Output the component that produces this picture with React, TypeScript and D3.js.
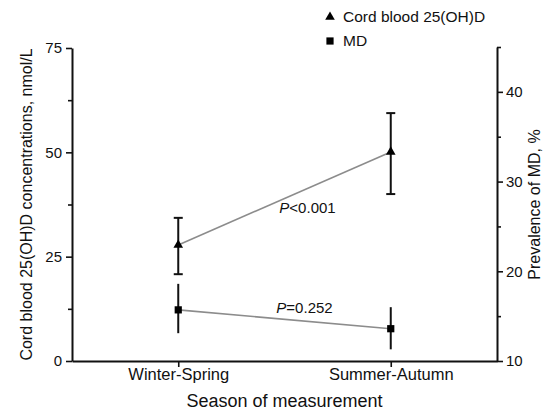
import React, { useEffect, useRef } from "react";
import * as d3 from "d3";

// categories on the x axis
const seasons = ["Winter-Spring", "Summer-Autumn"];

// cord blood 25(OH)D, nmol/L (left axis)
const vitD = [27.8, 50.1];
const vitDLow = [20.8, 40.0];
const vitDHigh = [34.3, 59.4];

// prevalence of MD, % (right axis)
const md = [15.7, 13.6];
const mdLow = [13.1, 11.3];
const mdHigh = [18.6, 16.0];

// tick values
const leftTicks = [0, 25, 50, 75];
const leftMinor = [12.5, 37.5, 62.5];
const rightTicks = [10, 20, 30, 40];
const rightMinor = [15, 25, 35, 45];

const pLabels = ["<0.001", "=0.252"];

const FONT = "'Liberation Sans', Arial, Helvetica, sans-serif";

const App = () => {
  const dimensions = { width: 553, height: 414 };
  const plot = { left: 72, right: 497, top: 48, bottom: 361 };

  const scales = {
    x: d3.scalePoint<string>().domain(seasons).range([plot.left, plot.right]).padding(0.5),
    yL: d3.scaleLinear().domain([0, 75]).range([plot.bottom, plot.top]),
    yR: d3.scaleLinear().domain([10, 45]).range([plot.bottom, plot.top - 1]),
  };

  const axis = {
    x: useRef<SVGGElement>(null),
    yL: useRef<SVGGElement>(null),
    yLm: useRef<SVGGElement>(null),
    yR: useRef<SVGGElement>(null),
    yRm: useRef<SVGGElement>(null),
  };

  useEffect(() => {
    const style = (g) => {
      g.select(".domain").attr("stroke", "#111").attr("stroke-width", 2);
      g.selectAll(".tick line").attr("stroke", "#111").attr("stroke-width", 1.6);
      g.selectAll(".tick text")
        .attr("fill", "#111")
        .style("font-family", FONT)
        .style("font-size", "15px");
    };

    d3.select(axis.yL.current)
      .call(d3.axisLeft(scales.yL).tickValues(leftTicks).tickSize(6).tickSizeOuter(0).tickPadding(4))
      .call(style);
    d3.select(axis.yLm.current)
      .call(d3.axisLeft(scales.yL).tickValues(leftMinor).tickSize(4).tickFormat(() => ""))
      .call(style)
      .select(".domain")
      .remove();

    d3.select(axis.yR.current)
      .call(d3.axisRight(scales.yR).tickValues(rightTicks).tickSize(6).tickSizeOuter(0).tickPadding(3))
      .call(style);
    d3.select(axis.yRm.current)
      .call(d3.axisRight(scales.yR).tickValues(rightMinor).tickSize(4).tickFormat(() => ""))
      .call(style)
      .select(".domain")
      .remove();

    d3.select(axis.x.current)
      .call(d3.axisBottom(scales.x).tickSize(6).tickSizeOuter(0).tickPadding(1))
      .call(style)
      .selectAll(".tick text")
      .style("font-size", "16.5px");
  }, []);

  const tri = d3.symbol(d3.symbolTriangle, 40)();
  const sq = d3.symbol(d3.symbolSquare, 52)();

  const vitPts = seasons.map((s, i) => [scales.x(s), scales.yL(vitD[i])] as [number, number]);
  const mdPts = seasons.map((s, i) => [scales.x(s), scales.yR(md[i])] as [number, number]);
  const line = d3.line();

  const mid = (pts) => [(pts[0][0] + pts[1][0]) / 2, (pts[0][1] + pts[1][1]) / 2];
  const vMid = mid(vitPts);
  const mMid = mid(mdPts);

  return (
    <svg width={dimensions.width} height={dimensions.height} style={{ display: "block", position: "absolute", left: 0, top: 0 }}>
      <rect width={dimensions.width} height={dimensions.height} fill="#fff" />

      {/* connecting lines */}
      <path d={line(vitPts)} stroke="#8c8c8c" strokeWidth={1.6} fill="none" />
      <path d={line(mdPts)} stroke="#8c8c8c" strokeWidth={1.6} fill="none" />

      {/* 25(OH)D error bars with caps */}
      {seasons.map((s, i) => {
        const x = scales.x(s);
        return (
          <g key={`v${s}`} stroke="#111" strokeWidth={2}>
            <line x1={x} x2={x} y1={scales.yL(vitDLow[i])} y2={scales.yL(vitDHigh[i])} />
            <line x1={x - 4.5} x2={x + 4.5} y1={scales.yL(vitDLow[i])} y2={scales.yL(vitDLow[i])} />
            <line x1={x - 4.5} x2={x + 4.5} y1={scales.yL(vitDHigh[i])} y2={scales.yL(vitDHigh[i])} />
          </g>
        );
      })}

      {/* MD error bars, no caps */}
      {seasons.map((s, i) => {
        const x = scales.x(s);
        return (
          <line key={`m${s}`} x1={x} x2={x} y1={scales.yR(mdLow[i])} y2={scales.yR(mdHigh[i])} stroke="#111" strokeWidth={2} />
        );
      })}

      {vitPts.map(([x, y], i) => (
        <path key={`t${i}`} d={tri} transform={`translate(${x},${y})`} fill="#000" />
      ))}
      {mdPts.map(([x, y], i) => (
        <path key={`s${i}`} d={sq} transform={`translate(${x},${y})`} fill="#000" />
      ))}

      {/* P values */}
      <text x={vMid[0] + 23} y={vMid[1] + 15} textAnchor="middle" fontFamily={FONT} fontSize={15} fill="#111">
        <tspan fontStyle="italic">P</tspan>
        {pLabels[0]}
      </text>
      <text x={mMid[0] + 20} y={mMid[1] - 6} textAnchor="middle" fontFamily={FONT} fontSize={15} fill="#111">
        <tspan fontStyle="italic">P</tspan>
        {pLabels[1]}
      </text>

      {/* axes */}
      <g ref={axis.yL} transform={`translate(${plot.left},0)`} />
      <g ref={axis.yLm} transform={`translate(${plot.left},0)`} />
      <g ref={axis.yR} transform={`translate(${plot.right},0)`} />
      <g ref={axis.yRm} transform={`translate(${plot.right},0)`} />
      <g ref={axis.x} transform={`translate(0,${plot.bottom})`} />

      {/* axis titles */}
      <text
        transform={`translate(32,${(plot.top + plot.bottom) / 2}) rotate(-90)`}
        textAnchor="middle"
        fontFamily={FONT}
        fontSize={16}
        fill="#111"
      >
        Cord blood 25(OH)D concentrations, nmol/L
      </text>
      <text
        transform={`translate(540,${(plot.top + plot.bottom) / 2}) rotate(-90)`}
        textAnchor="middle"
        fontFamily={FONT}
        fontSize={16}
        fill="#111"
      >
        Prevalence of MD, %
      </text>
      <text x={(plot.left + plot.right) / 2} y={407} textAnchor="middle" fontFamily={FONT} fontSize={18} fill="#111">
        Season of measurement
      </text>

      {/* legend */}
      <path d={tri} transform="translate(330,17)" fill="#000" />
      <text x={343} y={22} fontFamily={FONT} fontSize={15.5} fill="#111">
        Cord blood 25(OH)D
      </text>
      <path d={sq} transform="translate(330,41)" fill="#000" />
      <text x={343} y={46} fontFamily={FONT} fontSize={15.5} fill="#111">
        MD
      </text>
    </svg>
  );
};

export default App;
